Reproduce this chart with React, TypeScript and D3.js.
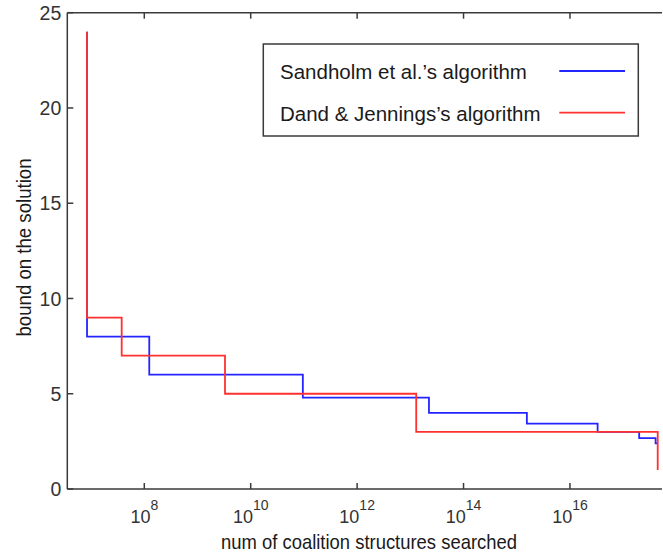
import React from "react";
import * as d3 from "d3";

// Bound on the solution vs. number of coalition structures searched (n = 24 agents)
const sandholmX = [8388608, 8388608, 1.24e8, 9.55e10, 2.24e13, 1.55e15, 3.31e16, 2.0e17, 4.07e17, 4.46e17];
const sandholmY = [24, 8, 6, 4.8, 4, 3.43, 3, 2.67, 2.4, 2.4];

const dangX = [8388608, 8388608, 3.76e7, 3.29e9, 1.29e13, 4.46e17];
const dangY = [24, 9, 7, 5, 3, 1];

const yTicks = [0, 5, 10, 15, 20, 25];
const xTickExponents = [8, 10, 12, 14, 16];

const seriesNames = ["Sandholm et al.\u2019s algorithm", "Dand & Jennings\u2019s algorithm"];
const seriesColors = ["#2424ff", "#ff3030"];

const W = 663;
const H = 557;
const left = 67.3;
const right = 662;
const top = 12.7;
const bottom = 489;

export default function App() {
  const x = d3.scaleLog().domain([Math.pow(10, 6.553), Math.pow(10, 17.73)]).range([left, right]);
  const y = d3.scaleLinear().domain([0, 25]).range([bottom, top]);

  const line = d3
    .line<[number, number]>()
    .x((d) => x(d[0]))
    .y((d) => y(d[1]))
    .curve(d3.curveStepAfter);

  const blue = line(sandholmX.map((v, i) => [v, sandholmY[i]] as [number, number])) || "";
  const red = line(dangX.map((v, i) => [v, dangY[i]] as [number, number])) || "";

  const axisColor = "#3a3a3a";
  const font = "'Liberation Sans', Arial, sans-serif";
  const tickLen = 6;

  return (
    <svg
      width={W}
      height={H}
      style={{ position: "absolute", left: 0, top: 0, background: "#fff" }}
      fontFamily={font}
    >
      <rect x={0} y={0} width={W} height={H} fill="#fff" />

      {/* series */}
      <path d={blue} fill="none" stroke={seriesColors[0]} strokeWidth={1.8} />
      <path d={red} fill="none" stroke={seriesColors[1]} strokeWidth={1.8} />

      {/* axes frame: left, bottom, top */}
      <line x1={left} x2={left} y1={top} y2={bottom} stroke={axisColor} strokeWidth={1.5} />
      <line x1={left} x2={right} y1={bottom} y2={bottom} stroke={axisColor} strokeWidth={1.5} />
      <line x1={left} x2={right} y1={top} y2={top} stroke={axisColor} strokeWidth={1.5} />

      {/* y ticks */}
      {yTicks.map((t) => (
        <g key={"y" + t}>
          <line x1={left} x2={left + tickLen} y1={y(t)} y2={y(t)} stroke={axisColor} strokeWidth={1.5} />
          <text x={left - 6} y={y(t)} dy="0.36em" textAnchor="end" fontSize={19.5} fill="#333">
            {t}
          </text>
        </g>
      ))}

      {/* x ticks */}
      {xTickExponents.map((e) => {
        const px = x(Math.pow(10, e));
        return (
          <g key={"x" + e}>
            <line x1={px} x2={px} y1={bottom} y2={bottom - tickLen} stroke={axisColor} strokeWidth={1.5} />
            <line x1={px} x2={px} y1={top} y2={top + tickLen} stroke={axisColor} strokeWidth={1.5} />
            <text x={px} y={522.5} textAnchor="middle" fontSize={18} fill="#333">
              10
              <tspan dy={-13} fontSize={14}>
                {e}
              </tspan>
            </text>
          </g>
        );
      })}

      {/* axis titles */}
      <text
        x={369}
        y={548.5}
        textAnchor="middle"
        fontSize={21}
        fill="#1a1a1a"
        textLength={296}
        lengthAdjust="spacingAndGlyphs"
      >
        num of coalition structures searched
      </text>
      <text
        transform="translate(30.5,247.5) rotate(-90)"
        textAnchor="middle"
        fontSize={21}
        fill="#1a1a1a"
        textLength={178}
        lengthAdjust="spacingAndGlyphs"
      >
        bound on the solution
      </text>

      {/* legend */}
      <rect x={263.3} y={44} width={375} height={92} fill="#fff" stroke={axisColor} strokeWidth={1.5} />
      {seriesNames.map((name, i) => (
        <g key={name}>
          <text x={280} y={79.3 + i * 41.4} fontSize={20.5} fill="#1a1a1a">
            {name}
          </text>
          <line
            x1={559.3}
            x2={625}
            y1={71 + i * 41.7}
            y2={71 + i * 41.7}
            stroke={seriesColors[i]}
            strokeWidth={1.8}
          />
        </g>
      ))}
    </svg>
  );
}
